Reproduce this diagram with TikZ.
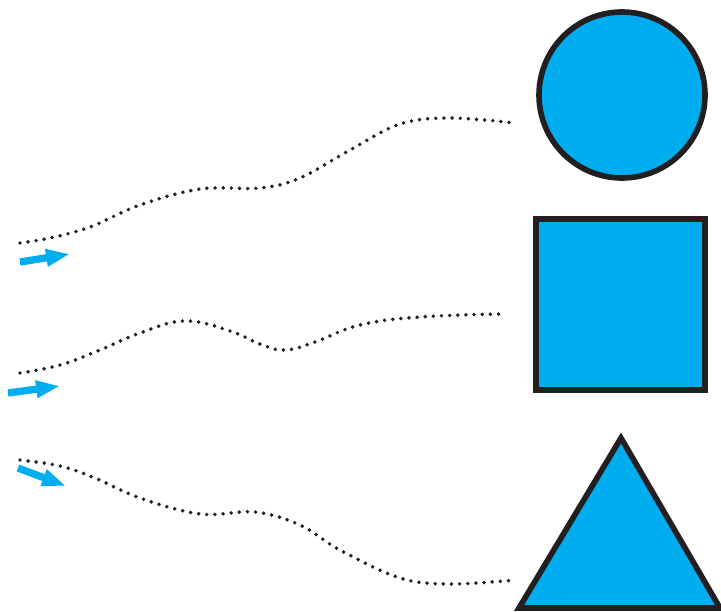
\documentclass[tikz,border=0pt]{standalone}
\usepackage{tikz}
\usetikzlibrary{arrows.meta, calc}
\definecolor{shapeblue}{HTML}{00AEEF}
\definecolor{inkdark}{HTML}{231F20}

\begin{document}
\begin{tikzpicture}[x=0.025cm, y=-0.025cm, >=stealth]
        \useasboundingbox (0,0) rectangle (721,611);
        \tikzset{
            solid shape/.style={fill=shapeblue, draw=inkdark, line width=4pt},
            wave/.style={inkdark, line width=2.8pt, line cap=round, dash pattern=on 0pt off 5.8pt},
            push/.style={shapeblue, line width=5.2pt, -{Triangle[length=17pt, width=11.5pt]}}
        }

        % 오른쪽 도형들
        \draw[solid shape] (622, 95) circle (83);
        \draw[solid shape] (536, 219) rectangle (705, 390);
        \coordinate (Tt) at (621, 438);
        \coordinate (Tl) at (519, 608);
        \coordinate (Tr) at (720, 608);
        \draw[solid shape, line join=miter] (Tt) -- (Tr) -- (Tl) -- cycle;

        % 점선 곡선 (위, 가운데, 아래)
        \draw[wave] plot[smooth, tension=0.6] coordinates {(20,243) (50,238) (90,227) (140,205) (200,189) (260,188) (300,178) (350,150) (400,124) (450,118) (515,123)};
        \draw[wave] plot[smooth, tension=0.7] coordinates {(20,373) (60,365) (100,350) (140,333) (185,321) (230,331) (260,344) (285,350) (315,342) (360,325) (420,317) (500,314)};
        \draw[wave] plot[smooth, tension=0.6] coordinates {(20,460) (60,466) (95,478) (140,498) (200,514) (255,512) (300,525) (340,550) (400,578) (450,584) (515,580)};

        % 파란 화살표
        \coordinate (A1) at (20, 262);
        \coordinate (B1) at (70, 254);
        \coordinate (A2) at (8, 393);
        \coordinate (B2) at (60, 386);
        \coordinate (A3) at (18, 468);
        \coordinate (B3) at (66, 486);
        \draw[push] (A1) -- (B1);
        \draw[push] (A2) -- (B2);
        \draw[push] (A3) -- (B3);
    \end{tikzpicture}
\end{document}
